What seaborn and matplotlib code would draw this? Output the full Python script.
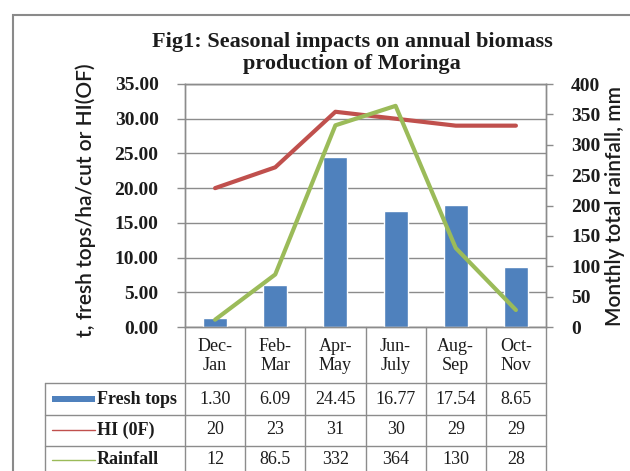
import numpy as np
import matplotlib
matplotlib.use("Agg")
import matplotlib.pyplot as plt
import matplotlib.transforms as mtransforms
from matplotlib.patches import Rectangle
from matplotlib.lines import Line2D
import seaborn as sns

# ---------------- data ----------------
categories = ["Dec-\nJan", "Feb-\nMar", "Apr-\nMay", "Jun-\nJuly", "Aug-\nSep", "Oct-\nNov"]
fresh_tops = [1.30, 6.09, 24.45, 16.77, 17.54, 8.65]
hi_of = [20, 23, 31, 30, 29, 29]
rainfall = [12, 86.5, 332, 364, 130, 28]
series_names = ["Fresh tops", "HI (0F)", "Rainfall"]
left_ticks = [0, 5, 10, 15, 20, 25, 30, 35]
right_ticks = [0, 50, 100, 150, 200, 250, 300, 350, 400]
title = "Fig1: Seasonal impacts on annual biomass\nproduction of Moringa"
left_label = "t, fresh tops/ha/cut or HI(OF)"
right_label = "Monthly total rainfall, mm"

# ---------------- style ----------------
sns.set_style("white")
plt.rcParams["font.family"] = ["Liberation Serif", "DejaVu Serif"]

BLUE = "#4F81BD"
RED = "#C0504D"
GREEN = "#9BBB59"
GRID = "#8C8C8C"
TXT = "#1c1c1c"
SANS = ["Lato", "Liberation Sans", "DejaVu Sans"]

W, H = 630, 471
fig = plt.figure(figsize=(W / 100, H / 100), dpi=100)


def fx(px):
    return px / W


def fy(py):
    return 1 - py / H


# plot area in pixels
L, R, T, B = 185, 546, 84, 327
ax = fig.add_axes([fx(L), fy(B), (R - L) / W, (B - T) / H])

n = len(categories)
xpos = np.arange(n)

sns.barplot(x=xpos, y=fresh_tops, color=BLUE, saturation=1, width=0.4,
            ax=ax, native_scale=True, zorder=3)
sns.lineplot(x=xpos, y=hi_of, color=RED, lw=3, ax=ax, zorder=4)
ax.set_xlim(-0.5, n - 0.5)
ax.set_ylim(0, 35)
ax.set_yticks(left_ticks)
ax.set_yticklabels([f"{v:.2f}" for v in left_ticks], fontsize=14,
                   fontweight="bold", color=TXT)
ax.set_xticks([])
ax.set_xlabel("")
ax.yaxis.grid(True, color=GRID, lw=1, zorder=0)
ax.set_axisbelow(True)
ax.tick_params(axis="y", which="major", left=True, length=6, width=1,
               color=GRID, pad=13, direction="out")
for s in ax.spines.values():
    s.set_color(GRID)
    s.set_linewidth(1)

ax2 = ax.twinx()
sns.lineplot(x=xpos, y=rainfall, color=GREEN, lw=3, ax=ax2, zorder=5)
ax2.set_ylim(0, 400)
ax2.set_yticks(right_ticks)
ax2.set_yticklabels([str(v) for v in right_ticks], fontsize=14,
                    fontweight="bold", color=TXT)
ax2.tick_params(axis="y", right=True, length=5, width=1, color=GRID,
                pad=13, direction="out")
for s in ax2.spines.values():
    s.set_color(GRID)
    s.set_linewidth(1)
ax2.set_xlim(-0.5, n - 0.5)

# axis labels
fig.text(fx(86), fy(200), left_label, rotation=90, ha="center", va="center",
         fontsize=15, color=TXT, family=SANS, fontweight="semibold")
fig.text(fx(615), fy(206), right_label, rotation=90, ha="center",
         va="center", fontsize=15, color=TXT, family=SANS,
         fontweight="semibold")

# title
fig.text(fx(352), fy(53), title, ha="center", va="center", fontsize=16,
         fontweight="bold", color=TXT, linespacing=1.2)

# ---------------- data table ----------------
tr = mtransforms.blended_transform_factory(ax.transData, fig.transFigure)
row_lines = [383, 415, 446]
row_centers = [399, 430, 460]
header_center = 356
table_left = 45
table_bottom = 480

# vertical lines at category boundaries
for b in np.arange(n + 1) - 0.5:
    ax.add_line(Line2D([b, b], [fy(B), fy(table_bottom)], transform=tr,
                       color=GRID, lw=1, clip_on=False))
# horizontal row lines
for py in row_lines:
    fig.add_artist(Line2D([fx(table_left), fx(R)], [fy(py), fy(py)],
                          color=GRID, lw=1))
fig.add_artist(Line2D([fx(table_left), fx(table_left)],
                      [fy(row_lines[0]), fy(table_bottom)], color=GRID, lw=1))

# header labels
for i, c in enumerate(categories):
    ax.text(xpos[i], fy(header_center), c, transform=tr, ha="center",
            va="center", fontsize=13, color=TXT, linespacing=1.15)

# values
rows = [
    [f"{v:.2f}" for v in fresh_tops],
    [f"{v:g}" for v in hi_of],
    [f"{v:g}" for v in rainfall],
]
for r, vals in enumerate(rows):
    for i, v in enumerate(vals):
        ax.text(xpos[i], fy(row_centers[r]), v, transform=tr, ha="center",
                va="center", fontsize=13, color=TXT)

# legend keys and row labels
fig.add_artist(Rectangle((fx(52), fy(row_centers[0]) - 3 / H), 43 / W, 6 / H,
                         facecolor=BLUE, edgecolor="none"))
fig.add_artist(Line2D([fx(52), fx(95)], [fy(row_centers[1])] * 2, color=RED,
                      lw=1))
fig.add_artist(Line2D([fx(52), fx(95)], [fy(row_centers[2])] * 2,
                      color=GREEN, lw=1))
for r, name in enumerate(series_names):
    fig.text(fx(97), fy(row_centers[r]), name, ha="left", va="center",
             fontsize=13, fontweight="bold", color=TXT)

# outer chart frame
fig.add_artist(Rectangle((fx(13), fy(H + 20)), 2.0, fy(15) - fy(H + 20),
                         facecolor="none", edgecolor="#8a8a8a", lw=1.5))

fig.savefig("out.png", dpi=100)
